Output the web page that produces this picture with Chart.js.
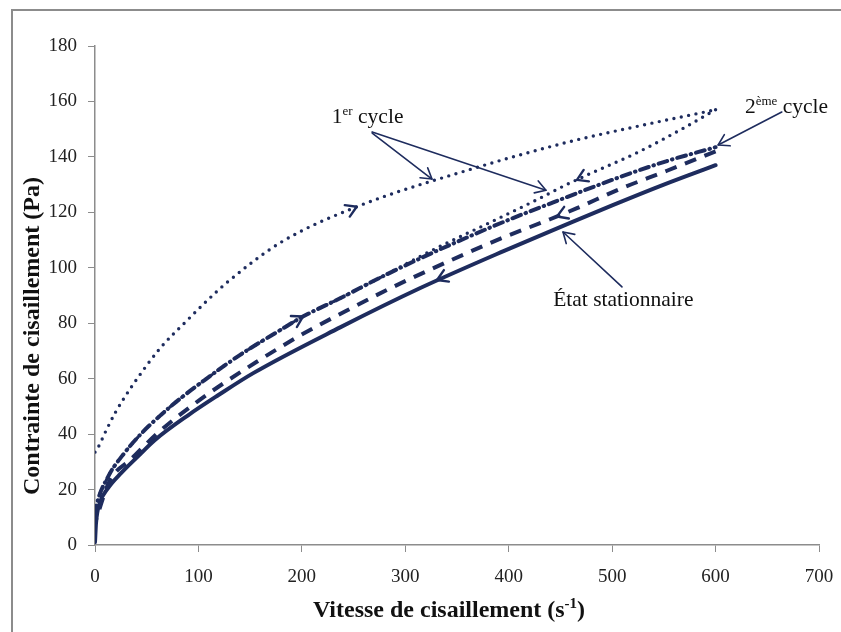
<!DOCTYPE html>
<html><head><meta charset="utf-8">
<script src="https://cdn.jsdelivr.net/npm/chart.js@4/dist/chart.umd.min.js"></script>
<style>
html,body{margin:0;padding:0;background:#fff;overflow:hidden;}
#wrap{position:absolute;left:0;top:0;width:841px;height:632px;}
#frame{position:absolute;left:11px;top:9px;width:1000px;height:1000px;border:2px solid #8c8c8c;box-sizing:border-box;}
canvas{position:absolute;left:0;top:0;}
</style></head>
<body><div id="wrap"><div id="frame"></div><canvas id="c" width="841" height="632"></canvas></div>
<script>
// 1st cycle, increasing shear rate (dotted)
const cycle1UpX = [0, 2, 11, 20, 29, 37, 63, 89, 108, 127, 179, 253, 363, 459, 524, 600];
const cycle1UpY = [33.5, 34.5, 41.5, 48, 53.5, 58, 71, 81, 88, 94.5, 109, 122, 135.5, 145.5, 151, 157];
// 1st cycle, decreasing shear rate (dotted)
const cycle1DownX = [600, 572, 524, 479, 456, 427, 380, 334, 314, 276, 237, 201, 179, 140, 106, 83, 64, 45, 27, 12.6, 1.3, 0];
const cycle1DownY = [157, 151, 141.5, 134, 130, 124.5, 116, 107.8, 104, 96.5, 89, 82.4, 77.5, 68.5, 59.5, 53, 47, 40.3, 32.5, 24.6, 14, 11];
// 2nd cycle, increasing shear rate (dash-dot)
const cycle2UpX = [0, 1.3, 12.6, 27, 45, 64, 83, 106, 140, 179, 201, 237, 276, 314, 360, 398, 443, 508, 553, 600];
const cycle2UpY = [11, 14, 24.6, 32.5, 40.3, 47, 53, 59.5, 68.5, 77.5, 82.4, 89, 96.5, 103.3, 111, 117, 123.6, 132.8, 138.5, 143.5];
// 2nd cycle, decreasing shear rate (dashed)
const cycle2DownX = [600, 553, 508, 466, 440, 392, 307.5, 285, 243, 198, 156, 119, 100, 77, 58, 35, 14, 0];
const cycle2DownY = [142, 135, 128.5, 121.5, 117.5, 110.5, 96.5, 92.5, 84.5, 75.5, 66, 57, 52, 45.5, 39.5, 31, 23, 8];
// Steady state (solid)
const steadyX = [0, 1, 4.5, 12.6, 25.4, 41.6, 57.7, 90, 119, 153, 237, 314, 395, 452, 500, 550, 600];
const steadyY = [1, 8, 15, 20.5, 26, 32, 37.8, 46.8, 54, 62, 78.5, 92.6, 106, 115, 122.5, 130, 137];

const xTicks = [0, 100, 200, 300, 400, 500, 600, 700];
const yTicks = [0, 20, 40, 60, 80, 100, 120, 140, 160, 180];

const NAVY = '#1e2c5e';
const pts = (xs, ys) => xs.map((x, i) => ({x, y: ys[i]}));

// direction arrows on curves: tip and a point behind it (data units)
const curveArrows = [
  {tip:[253,122], from:[222,117]},
  {tip:[201,82.4], from:[172,76.5]},
  {tip:[466,131.7], from:[500,137.5]},
  {tip:[446.7,118.5], from:[480,123.5]},
  {tip:[330.7,95.6], from:[370,102]}
];
// label arrows (data units)
const labelArrows = [
  {from:[268,148.6], to:[325.8,132]},
  {from:[268,149], to:[436,128]},
  {from:[664,156.2], to:[602.5,144.3]},
  {from:[509.5,93.1], to:[452.5,112.9]}
];
const labels = [
  {at:[229,152.2], parts:[['1',0],['er',1],[' cycle',0]]},
  {at:[628.4,155.8], parts:[['2',0],['ème',1],[' cycle',0]]},
  {at:[443,86.2], parts:[['État stationnaire',0]]}
];

function drawRich(ctx, parts, x, y, size, supSize, bold){
  let cx=x;
  for(const [t,s] of parts){
    ctx.font=(bold?'bold ':'')+(s?supSize:size)+'px "Liberation Serif"';
    ctx.fillText(t, cx, s? y - size*0.38 : y);
    cx+=ctx.measureText(t).width;
  }
}
function chevron(ctx, tx, ty, ang){
  const L=12, a=0.55;
  ctx.beginPath();
  ctx.moveTo(tx - L*Math.cos(ang-a), ty - L*Math.sin(ang-a));
  ctx.lineTo(tx, ty);
  ctx.lineTo(tx - L*Math.cos(ang+a), ty - L*Math.sin(ang+a));
  ctx.stroke();
}

const annot = {
  id:'annot',
  afterDraw(chart){
    const ctx=chart.ctx, xs=chart.scales.x, ys=chart.scales.y;
    const P=(p)=>[xs.getPixelForValue(p[0]), ys.getPixelForValue(p[1])];
    ctx.save();
    ctx.strokeStyle=NAVY; ctx.fillStyle=NAVY; ctx.lineCap='round'; ctx.lineJoin='round';
    ctx.lineWidth=2.4;
    for(const a of curveArrows){
      const t=P(a.tip), f=P(a.from);
      chevron(ctx, t[0], t[1], Math.atan2(t[1]-f[1], t[0]-f[0]));
    }
    ctx.lineWidth=1.6;
    for(const a of labelArrows){
      const f=P(a.from), t=P(a.to);
      ctx.beginPath(); ctx.moveTo(f[0],f[1]); ctx.lineTo(t[0],t[1]); ctx.stroke();
      chevron(ctx, t[0], t[1], Math.atan2(t[1]-f[1], t[0]-f[0]));
    }
    ctx.fillStyle='#111'; ctx.textBaseline='alphabetic';
    for(const l of labels){
      const p=P(l.at);
      drawRich(ctx, l.parts, p[0], p[1], 21.5, 13, false);
    }
    // axis titles
    const xt=[['Vitesse de cisaillement (s',0],['-1',1],[')',0]];
    let w=0; for(const [t,s] of xt){ctx.font='bold '+(s?15:24)+'px "Liberation Serif"'; w+=ctx.measureText(t).width;}
    drawRich(ctx, xt, 449 - w/2, 617, 24, 15, true);
    ctx.translate(33, 336); ctx.rotate(-Math.PI/2);
    ctx.font='bold 24px "Liberation Serif"'; ctx.textAlign='center'; ctx.textBaseline='middle';
    ctx.fillText('Contrainte de cisaillement (Pa)', 0, 0);
    ctx.restore();
  }
};

const common = {borderColor: NAVY, pointRadius: 0, fill: false, tension: 0.4, cubicInterpolationMode: 'monotone'};
new Chart(document.getElementById('c'), {
  type: 'line',
  data: {datasets: [
    Object.assign({label:'1er cycle montée', data: pts(cycle1UpX, cycle1UpY), borderWidth: 3.4, borderDash:[0,7.5], borderCapStyle:'round'}, common),
    Object.assign({label:'1er cycle descente', data: pts(cycle1DownX, cycle1DownY), borderWidth: 3.4, borderDash:[0,7.5], borderCapStyle:'round'}, common),
    Object.assign({label:'2ème cycle montée', data: pts(cycle2UpX, cycle2UpY), borderWidth: 4, borderDash:[9,5,0.5,5], borderCapStyle:'round'}, common),
    Object.assign({label:'2ème cycle descente', data: pts(cycle2DownX, cycle2DownY), borderWidth: 4, borderDash:[12,9], borderCapStyle:'butt'}, common),
    Object.assign({label:'État stationnaire', data: pts(steadyX, steadyY), borderWidth: 4, borderCapStyle:'round'}, common)
  ]},
  options: {
    responsive: false, animation: false, devicePixelRatio: 1,
    layout: {padding: {left: 0, right: 22, top: 46, bottom: 0}},
    plugins: {legend: {display: false}, tooltip: {enabled: false}},
    scales: {
      x: {type: 'linear', min: 0, max: 700,
          afterBuildTicks: s => { s.ticks = xTicks.map(v => ({value: v})); },
          afterFit: s => { s.height = 87; s.paddingRight = 0; s.paddingLeft = 0; },
          ticks: {color: '#222', font: {family: 'Liberation Serif', size: 19}, padding: 14, maxRotation: 0},
          grid: {drawOnChartArea: false, tickLength: 7, color: '#8c8c8c', lineWidth: 1},
          border: {color: '#8c8c8c', width: 1.5}},
      y: {type: 'linear', min: 0, max: 180,
          afterBuildTicks: s => { s.ticks = yTicks.map(v => ({value: v})); },
          afterFit: s => { s.width = 95; s.paddingTop = 0; s.paddingBottom = 0; },
          ticks: {color: '#222', font: {family: 'Liberation Serif', size: 19}, padding: 11},
          grid: {drawOnChartArea: false, tickLength: 7, color: '#8c8c8c', lineWidth: 1},
          border: {color: '#8c8c8c', width: 1.5}}
    }
  },
  plugins: [annot]
});
</script></body></html>
